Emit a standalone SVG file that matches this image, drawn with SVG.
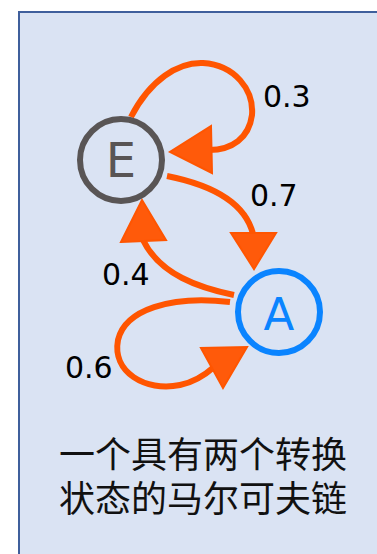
<svg xmlns="http://www.w3.org/2000/svg" width="377" height="554" viewBox="0 0 377 554">
<style>
.edge{fill:none;stroke:#ff5500;stroke-width:6;stroke-linecap:butt}
.head{fill:#ff5a0a;stroke:#ff5500;stroke-width:2;stroke-linejoin:miter}
.lbl{font-family:"DejaVu Sans",sans-serif;font-size:30px;fill:#000}
.cap{font-family:"Noto Sans CJK SC",sans-serif;font-size:36px;fill:#111;text-anchor:middle}
</style>
<rect x="19" y="12" width="420" height="600" fill="#dae3f3" stroke="#3f5f9c" stroke-width="2"/>
<g id="connectors">
<path class="edge" d="M131,117 C150,80 178,62 203,63 C235,65 254,90 252,115 C249,138 232,150 209,150"/>
<polygon class="head" points="211,126 212,173 170,152"/>
<path class="edge" d="M167,176 C212,185 245,202 253,234"/>
<polygon class="head" points="231,233 276,233 254,269"/>
<path class="edge" d="M234,295 C200,288 160,275 143,240"/>
<polygon class="head" points="121,242 166,240 142,200"/>
<path class="edge" d="M230,302 C170,295 125,310 118,340 C112,372 145,392 180,385 C195,382 205,375 214,367"/>
<polygon class="head" points="201,348 223,388 247,347"/>
<text class="lbl" x="263" y="107">0.3</text>
<text class="lbl" x="250" y="206">0.7</text>
<text class="lbl" x="102" y="285">0.4</text>
<text class="lbl" x="65" y="378">0.6</text>
</g>
<g id="E">
<circle cx="121" cy="160" r="41" fill="none" stroke="#595555" stroke-width="6"/>
<text x="121" y="177" font-family="DejaVu Sans,sans-serif" font-size="48" fill="#595555" text-anchor="middle">E</text>
</g>
<g id="A">
<circle cx="279" cy="312" r="41" fill="none" stroke="#0a84ff" stroke-width="6"/>
<text x="279" y="330" font-family="DejaVu Sans,sans-serif" font-size="45" fill="#0a84ff" text-anchor="middle">A</text>
</g>
<g id="caption">
<text class="cap" x="203" y="468">一个具有两个转换</text>
<text class="cap" x="203" y="512">状态的马尔可夫链</text>
</g>
</svg>
